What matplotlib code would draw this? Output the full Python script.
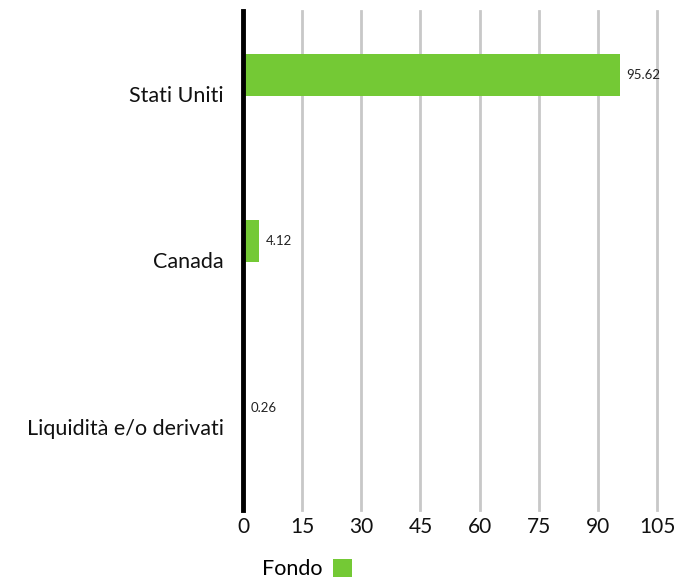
import matplotlib
matplotlib.use("Agg")
import matplotlib.pyplot as plt
from matplotlib.patches import Patch

categories = ["Stati Uniti", "Canada", "Liquidità e/o derivati"]
values = [95.62, 4.12, 0.26]
value_labels = ["95.62", "4.12", "0.26"]
xticks = [0, 15, 30, 45, 60, 75, 90, 105]
series_name = "Fondo"
color = "#74c935"

plt.rcParams['font.family'] = ['Lato', 'DejaVu Sans']

fig = plt.figure(figsize=(6.78, 5.80), dpi=100)
ax = fig.add_axes([243/678, 1-510/580, (657-243)/678, (510-11)/580])

pos = [i - 0.115 for i in range(len(categories))]
ax.barh(pos, values, height=0.253, color=color, zorder=3)
for p, v, t in zip(pos, values, value_labels):
    ax.text(v + 1.7, p, t, va='center', ha='left', fontsize=9.5, color='#222222', zorder=4)

ax.set_xlim(0, 105)
ax.set_ylim(2.5, -0.5)
ax.set_xticks(xticks)
ax.set_xticklabels([str(x) for x in xticks], fontsize=15, color='#111111')
ax.set_yticks(range(len(categories)))
ax.set_yticklabels(categories, fontsize=15.5, color='#111111')
ax.tick_params(axis='both', length=0)
ax.tick_params(axis='y', pad=14)
ax.tick_params(axis='x', pad=5)
ax.xaxis.grid(True, color='#c8c8c8', linewidth=2, zorder=0)
for gl in ax.get_xgridlines():
    gl.set_clip_on(False)
for s in ['top', 'right', 'bottom']:
    ax.spines[s].set_visible(False)
ax.spines['left'].set_linewidth(3.5)
ax.spines['left'].set_color('black')
ax.spines['left'].set_zorder(5)

handle = Patch(facecolor=color, edgecolor='none')
fig.legend([handle], [series_name], loc='center', bbox_to_anchor=(307/678, 1-569/580),
           frameon=False, fontsize=15.5, markerfirst=False, handlelength=0.9,
           handleheight=0.9, handletextpad=0.5)

fig.savefig("out.png", dpi=100)
